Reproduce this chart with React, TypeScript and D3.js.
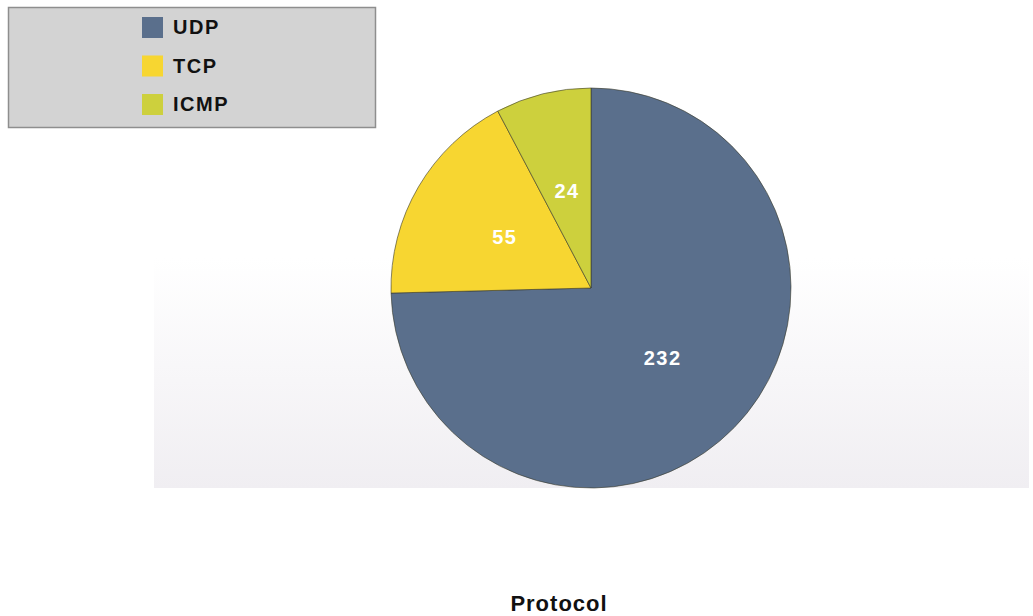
import React from "react";
import * as d3 from "d3";

const categories = ["UDP", "TCP", "ICMP"];
const values = [232, 55, 24];
const colors = ["#5a6f8c", "#f7d631", "#cdd03d"];
const title = "Protocol";

const W = 1033;
const H = 616;
const cx = 591;
const cy = 288;
const radius = 200;

export default function App() {
  const pie = d3
    .pie<number>()
    .sort(null)
    .value((d) => d)
    .startAngle(0)
    .endAngle(2 * Math.PI);
  const arcs = pie(values);
  const arc = d3.arc<d3.PieArcDatum<number>>().innerRadius(0).outerRadius(radius);
  const labelArc = d3
    .arc<d3.PieArcDatum<number>>()
    .innerRadius(radius / 2)
    .outerRadius(radius / 2);

  const legendY = d3.scalePoint<string>().domain(categories).range([27, 104]);

  return (
    <svg
      width={W}
      height={H}
      style={{ position: "absolute", left: 0, top: 0 }}
      fontFamily="Liberation Sans, Arial, sans-serif"
    >
      <defs>
        <linearGradient id="plotBg" x1="0" y1="0" x2="0" y2="1">
          <stop offset="0" stopColor="#ffffff" />
          <stop offset="1" stopColor="#f0eef2" />
        </linearGradient>
      </defs>
      <rect x={0} y={0} width={W} height={H} fill="#ffffff" />
      <rect x={154} y={258} width={875} height={230} fill="url(#plotBg)" />

      <g transform={`translate(${cx},${cy})`}>
        {arcs.map((a, i) => (
          <path
            key={categories[i]}
            d={arc(a) ?? ""}
            fill={colors[i]}
            stroke="#3a3a2a"
            strokeWidth={1}
            strokeOpacity={0.6}
          />
        ))}
        {arcs.map((a, i) => {
          const [lx, ly] = labelArc.centroid(a);
          return (
            <text
              key={"lbl-" + categories[i]}
              x={lx}
              y={ly}
              textAnchor="middle"
              dominantBaseline="central"
              fill="#ffffff"
              fontWeight="bold"
              fontSize={20}
              letterSpacing={1.5}
            >
              {values[i]}
            </text>
          );
        })}
      </g>

      <rect x={8.5} y={7.5} width={367} height={120} fill="#d3d3d3" stroke="#8e8e8e" strokeWidth={1.5} />
      {categories.map((c, i) => (
        <g key={"leg-" + c} transform={`translate(0,${legendY(c)})`}>
          <rect x={142} y={-10} width={21} height={21} fill={colors[i]} />
          <text
            x={173}
            y={0}
            dominantBaseline="central"
            fontWeight="bold"
            fontSize={20}
            letterSpacing={1.5}
            fill="#111"
          >
            {c}
          </text>
        </g>
      ))}

      <text
        x={559}
        y={603}
        textAnchor="middle"
        dominantBaseline="central"
        fontWeight="bold"
        fontSize={22}
        letterSpacing={1}
        fill="#111"
      >
        {title}
      </text>
    </svg>
  );
}
